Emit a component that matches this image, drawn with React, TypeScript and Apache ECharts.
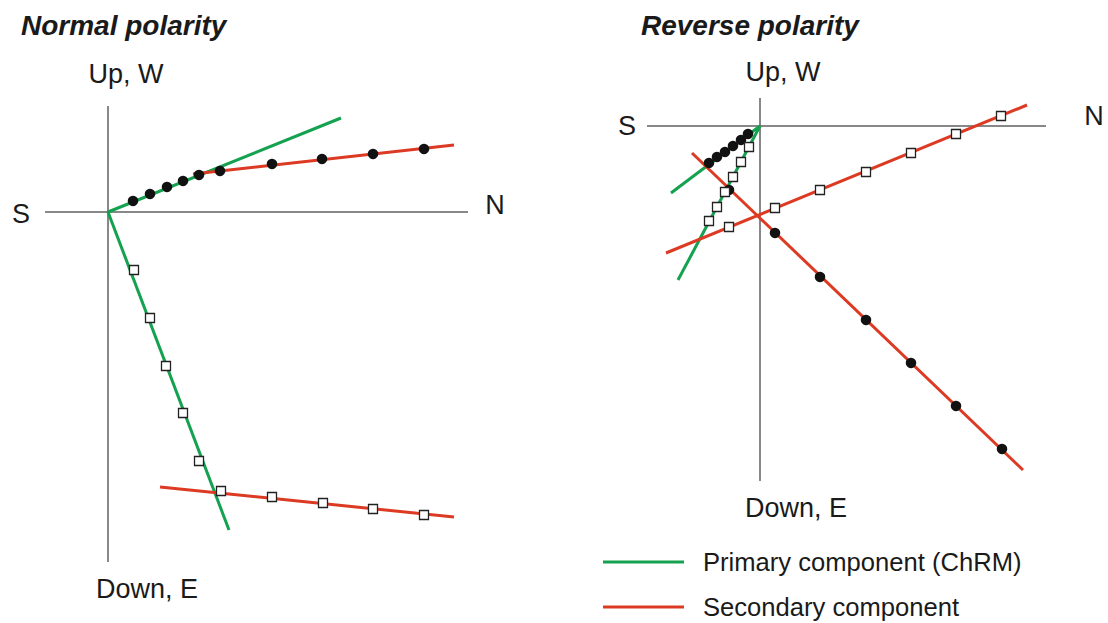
import React, { useEffect, useRef } from "react";
import * as echarts from "echarts";

// ---- Data (units: drawing units, origin at the axes crossing, "up" positive) ----
const PRIMARY = "Primary component (ChRM)";
const SECONDARY = "Secondary component";

// Normal polarity panel
const normalAxisNS: number[][] = [[-63, 0], [360, 0]];
const normalAxisUD: number[][] = [[0, 106], [0, -350]];
const normalCircles: number[][] = [
  [25, 11], [42, 18], [59, 25], [75, 31], [91, 37],
  [112, 41], [164, 48], [214, 53], [265, 58], [316, 63],
];
const normalSquares: number[][] = [
  [26, -58], [42, -106], [58, -154], [75, -201], [91, -249],
  [113, -279], [164, -285], [215, -291], [265, -297], [316, -303],
];
const normalPrimaryUp: number[][] = [[0, 0], [233, 94]];
const normalPrimaryDown: number[][] = [[0, 0], [121, -318]];
const normalSecondaryUp: number[][] = [[85, 38], [346, 67]];
const normalSecondaryDown: number[][] = [[52, -275], [346, -305]];

// Reverse polarity panel
const reverseAxisNS: number[][] = [[-113, 0], [286, 0]];
const reverseAxisUD: number[][] = [[0, 28], [0, -355]];
const reverseCircles: number[][] = [
  [-12, -8], [-19, -14], [-27, -20], [-35, -26], [-43, -31], [-51, -37],
  [-31, -64], [15, -107], [60, -151], [106, -194], [151, -237], [196, -280], [242, -323],
];
const reverseSquares: number[][] = [
  [-11, -21], [-19, -36], [-27, -51], [-35, -66], [-43, -81], [-51, -95],
  [-31, -101], [15, -82], [60, -64], [106, -46], [151, -27], [196, -8], [241, 10],
];
const reversePrimaryA: number[][] = [[0, 0], [-89, -67]];
const reversePrimaryB: number[][] = [[0, 0], [-82, -154]];
const reverseSecondaryA: number[][] = [[-68, -27], [263, -344]];
const reverseSecondaryB: number[][] = [[-94, -127], [267, 21]];

const FONT = "'Liberation Sans', Arial, Helvetica, sans-serif";
const GREEN = "#14a150";
const RED = "#dc3a22";
const AXIS = "#606060";

function lineSeries(name: string, data: number[][], idx: number, color: string, width: number, z: number) {
  return {
    type: "line",
    name,
    xAxisIndex: idx,
    yAxisIndex: idx,
    data,
    symbol: "none",
    silent: true,
    lineStyle: { color, width },
    itemStyle: { color },
    z,
  };
}

function circleSeries(data: number[][], idx: number) {
  return {
    type: "scatter",
    name: "circles" + idx,
    xAxisIndex: idx,
    yAxisIndex: idx,
    data,
    symbol: "circle",
    symbolSize: 10.5,
    itemStyle: { color: "#111", opacity: 1 },
    z: 5,
  };
}

function squareSeries(data: number[][], idx: number) {
  return {
    type: "scatter",
    name: "squares" + idx,
    xAxisIndex: idx,
    yAxisIndex: idx,
    data,
    symbol: "rect",
    symbolSize: 9,
    itemStyle: { color: "#ffffff", borderColor: "#222", borderWidth: 1.3, opacity: 1 },
    z: 5,
  };
}

function hiddenAxis(min: number, max: number, idx: number) {
  return {
    type: "value",
    gridIndex: idx,
    min,
    max,
    show: false,
    splitLine: { show: false },
  };
}

export default function App() {
  const ref = useRef<HTMLDivElement>(null);

  useEffect(() => {
    if (!ref.current) return;
    const chart = echarts.init(ref.current, undefined, { renderer: "svg" });
    const txt = (text: string, x: number, y: number, align: string, size: number, bold = false) => ({
      type: "text",
      x,
      y,
      style: {
        text,
        fill: "#1a1a1a",
        font: `${bold ? "italic bold " : ""}${size}px ${FONT}`,
        textAlign: align,
        textVerticalAlign: "middle",
      },
    });

    chart.setOption({
      animation: false,
      backgroundColor: "#ffffff",
      grid: [
        { left: 0, top: 0, width: 554, height: 623 },
        { left: 554, top: 0, width: 554, height: 623 },
      ],
      xAxis: [hiddenAxis(-108, 446, 0), hiddenAxis(-206, 348, 1)],
      yAxis: [hiddenAxis(-411, 212, 0), hiddenAxis(-497, 126, 1)],
      legend: {
        orient: "vertical",
        left: 603,
        top: 549,
        padding: 0,
        icon: "rect",
        itemWidth: 81,
        itemHeight: 3,
        itemGap: 19,
        selectedMode: false,
        data: [PRIMARY, SECONDARY],
        textStyle: { fontSize: 25.6, fontFamily: FONT, color: "#1a1a1a", lineHeight: 26, padding: [0, 0, 0, 14] },
      },
      graphic: [
        txt("Normal polarity", 21, 25, "left", 28, true),
        txt("Reverse polarity", 641, 25, "left", 28, true),
        txt("Up, W", 126, 74, "center", 27),
        txt("Down, E", 147, 589, "center", 27),
        txt("S", 21, 214, "center", 27),
        txt("N", 495, 205, "center", 27),
        txt("Up, W", 783, 72, "center", 27),
        txt("Down, E", 796, 508, "center", 27),
        txt("S", 627, 126, "center", 27),
        txt("N", 1094, 116, "center", 27),
      ],
      series: [
        lineSeries("axisNS0", normalAxisNS, 0, AXIS, 1.5, 1),
        lineSeries("axisUD0", normalAxisUD, 0, AXIS, 1.5, 1),
        lineSeries("axisNS1", reverseAxisNS, 1, AXIS, 1.5, 1),
        lineSeries("axisUD1", reverseAxisUD, 1, AXIS, 1.5, 1),
        lineSeries(PRIMARY, normalPrimaryUp, 0, GREEN, 3, 2),
        lineSeries(PRIMARY, normalPrimaryDown, 0, GREEN, 3, 2),
        lineSeries(SECONDARY, normalSecondaryUp, 0, RED, 3, 2),
        lineSeries(SECONDARY, normalSecondaryDown, 0, RED, 3, 2),
        lineSeries(PRIMARY, reversePrimaryA, 1, GREEN, 3, 2),
        lineSeries(PRIMARY, reversePrimaryB, 1, GREEN, 3, 2),
        lineSeries(SECONDARY, reverseSecondaryA, 1, RED, 3, 2),
        lineSeries(SECONDARY, reverseSecondaryB, 1, RED, 3, 2),
        circleSeries(normalCircles, 0),
        squareSeries(normalSquares, 0),
        circleSeries(reverseCircles, 1),
        squareSeries(reverseSquares, 1),
      ],
    });
    return () => chart.dispose();
  }, []);

  return (
    <div
      ref={ref}
      style={{ position: "fixed", left: 0, top: 0, width: 1108, height: 623, background: "#fff" }}
    />
  );
}
